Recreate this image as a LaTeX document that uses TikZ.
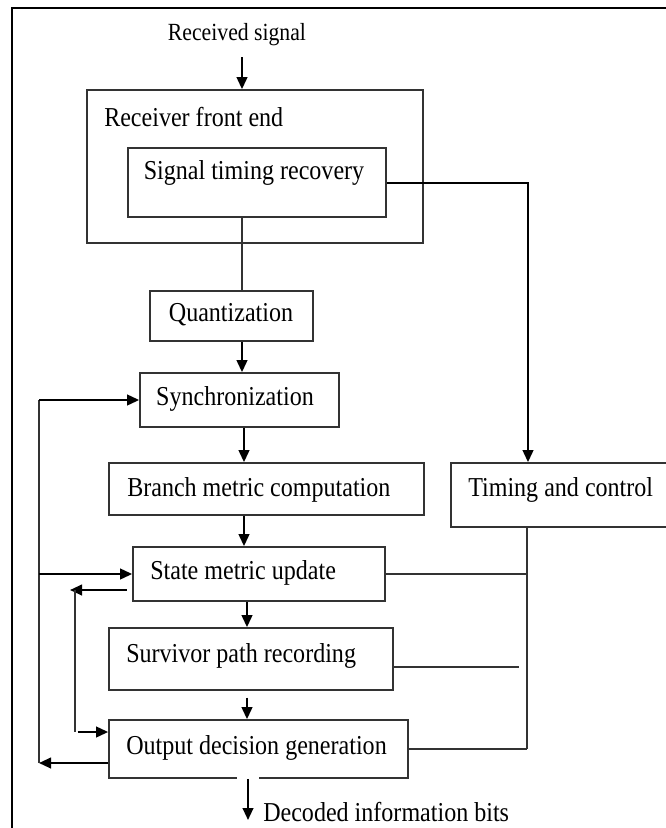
\documentclass[tikz,border=0pt]{standalone}
\usepackage{fontspec}
\setmainfont{Liberation Serif}[FakeStretch=0.88]
\usetikzlibrary{arrows.meta,fit}
\begin{document}
\begin{tikzpicture}[x=0.75pt,y=-0.75pt,
  box/.style={draw=black!80,line width=1.3pt,inner sep=0pt},
  txt/.style={inner sep=0pt,font=\fontsize{20.5}{22}\selectfont},
  arr/.style={draw=black,line width=1.5pt,-{Triangle[length=9pt,width=8pt]}},
  conn/.style={draw=black!80,line width=1.3pt},
  frame/.style={draw=black,line width=2pt}]
\useasboundingbox (0,0) rectangle (665,828);
% outer frame
\draw[frame] (12,830) -- (12,8) -- (680,8);
% boxes
\node[box,fit={(87,90) (423,243)}] (rfe) {};
\node[box,fit={(128,148) (386,217)}] (str) {};
\node[box,fit={(150,291) (313,341)}] (quant) {};
\node[box,fit={(140,373) (339,427)}] (sync) {};
\node[box,fit={(109,463) (424,515)}] (bmc) {};
\node[box,fit={(451,463) (690,527)}] (tc) {};
\node[box,fit={(133,547) (385,601)}] (smu) {};
\node[box,fit={(109,628) (393,690)}] (spr) {};
\node[box,fit={(109,720) (408,778)}] (odg) {};
% texts
\node[txt,font=\fontsize{18.5}{20}\selectfont] (rs) at (237,35) {Received signal};
\node[txt,anchor=west] (trfe) at (104,117) {Receiver front end};
\node[txt] (tstr) at (254,173) {Signal timing recovery};
\node[txt] (tq) at (231,315) {Quantization};
\node[txt] (ts) at (235,399) {Synchronization};
\node[txt,anchor=west] (tb) at (127,490) {Branch metric computation};
\node[txt,anchor=west] (ttc) at (468,490) {Timing and control};
\node[txt,anchor=west] (tsm) at (150,573) {State metric update};
\node[txt,anchor=west] (tsp) at (126,656) {Survivor path recording};
\node[txt,anchor=west] (tod) at (126,748) {Output decision generation};
\node[txt,anchor=west] (tdec) at (263,812) {Decoded information bits};
% coordinates
\coordinate (c1) at (242,57);
\coordinate (c2) at (244,0);
\coordinate (c3) at (247,0);
\coordinate (tx) at (528,0);
\coordinate (R) at (527,0);
\coordinate (sprR) at (519,667);
\coordinate (Lb) at (39,763);
\coordinate (Ma) at (70,590);
\coordinate (Mv1) at (75,590);
\coordinate (Mv2) at (75,732);
\coordinate (D) at (248,820);
% main chain
\draw[arr] (c1) -- (c1 |- rfe.north);
\draw[conn] (c1 |- str.south) -- (c1 |- quant.north);
\draw[arr] (c1 |- quant.south) -- (c1 |- sync.north);
\draw[arr] (c2 |- sync.south) -- (c2 |- bmc.north);
\draw[arr] (c2 |- bmc.south) -- (c2 |- smu.north);
\draw[arr] (c3 |- smu.south) -- (c3 |- spr.north);
\draw[arr] ([yshift=-5pt]c3 |- spr.south) -- (c3 |- odg.north);
% timing
\draw[arr] (str.east) -| (tx |- tc.north);
\draw[conn] (R |- tc.south) -- (R |- odg.east);
\draw[conn] (smu.east) -- (R |- smu.east);
\draw[conn] (spr.east |- sprR) -- (sprR);
\draw[conn] (odg.east) -- (R |- odg.east);
% outer feedback loop
\draw[arr] (odg.west |- Lb) -- (Lb);
\draw[conn] (Lb) -- (Lb |- sync.west);
\draw[arr] (Lb |- sync.west) -- (sync.west);
\draw[arr] (Lb |- smu.west) -- (smu.west);
% inner feedback loop
\draw[arr] ([xshift=-4pt]smu.west |- Ma) -- (Ma);
\draw[conn] (Mv1) -- (Mv2);
\draw[arr] ([xshift=2pt]Mv2) -- (odg.west |- Mv2);
% output
\draw[white,line width=2.5pt] ([xshift=-8pt]D |- odg.south) -- ([xshift=8pt]D |- odg.south);
\draw[arr] (D |- odg.south) -- (D);
\end{tikzpicture}
\end{document}
